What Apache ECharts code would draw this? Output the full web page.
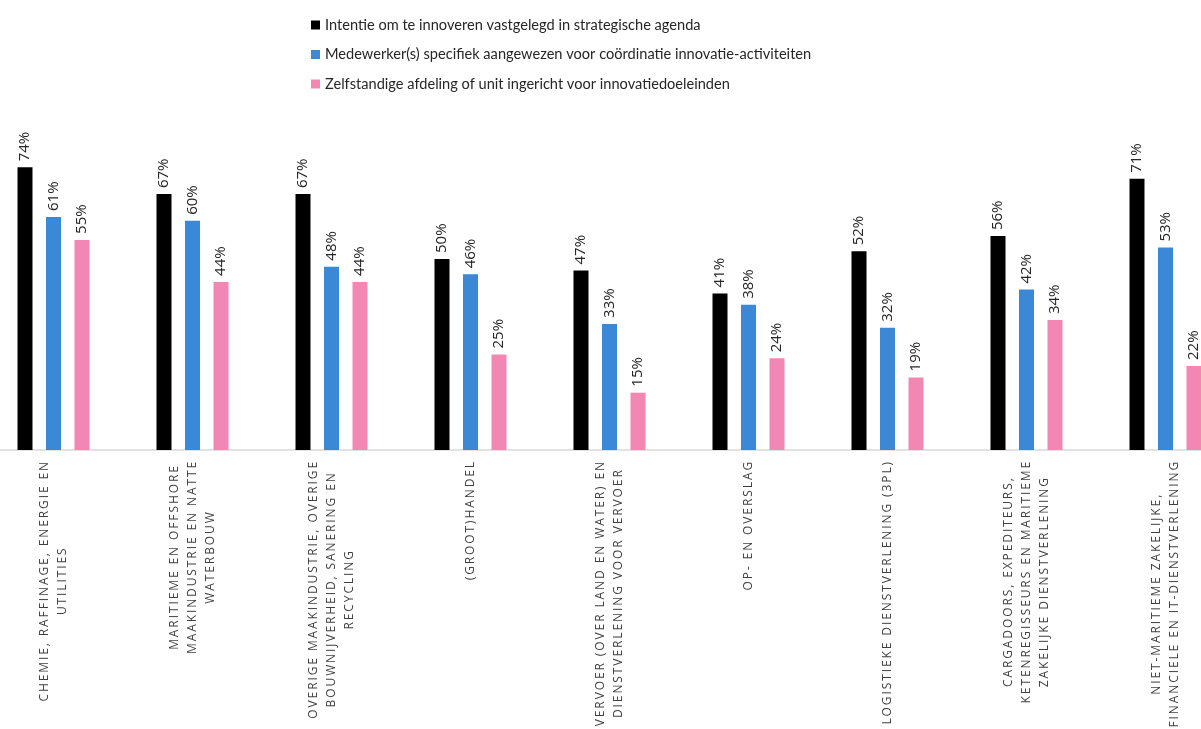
<!DOCTYPE html>
<html>
<head>
<meta charset="utf-8">
<script src="https://cdn.jsdelivr.net/npm/echarts@6/dist/echarts.min.js"></script>
<style>
  html, body { margin: 0; padding: 0; background: #fff; }
  #chart { width: 1201px; height: 729px; }
</style>
</head>
<body>
<div id="chart"></div>
<script>
// sectoren (regels zoals in de figuur afgebroken)
var categories = [
    'CHEMIE, RAFFINAGE, ENERGIE EN\nUTILITIES',
    'MARITIEME EN OFFSHORE\nMAAKINDUSTRIE EN NATTE\nWATERBOUW',
    'OVERIGE MAAKINDUSTRIE, OVERIGE\nBOUWNIJVERHEID, SANERING EN\nRECYCLING',
    '(GROOT)HANDEL',
    'VERVOER (OVER LAND EN WATER) EN\nDIENSTVERLENING VOOR VERVOER',
    'OP- EN OVERSLAG',
    'LOGISTIEKE DIENSTVERLENING (3PL)',
    'CARGADOORS, EXPEDITEURS,\nKETENREGISSEURS EN MARITIEME\nZAKELIJKE DIENSTVERLENING',
    'NIET-MARITIEME ZAKELIJKE,\nFINANCIELE EN IT-DIENSTVERLENING'
];
var seriesNames = [
    'Intentie om te innoveren vastgelegd in strategische agenda',
    'Medewerker(s) specifiek aangewezen voor coördinatie innovatie-activiteiten',
    'Zelfstandige afdeling of unit ingericht voor innovatiedoeleinden'
];
var strategie = [74, 67, 67, 50, 47, 41, 52, 56, 71];
var medewerker = [61, 60, 48, 46, 33, 38, 32, 42, 53];
var afdeling = [55, 44, 44, 25, 15, 24, 19, 34, 22];
var colors = ['#000000', '#3a88d6', '#f387b3'];

// asteksten hebben letterafstand: vlak voor meten/tekenen letterSpacing zetten voor het 12px lettertype
var proto = CanvasRenderingContext2D.prototype;
['fillText', 'strokeText', 'measureText'].forEach(function (fn) {
    var orig = proto[fn];
    proto[fn] = function () {
        if ('letterSpacing' in this) {
            this.letterSpacing = /(^|\s)12px\s/.test(this.font) ? '1.9px' : '0px';
        }
        return orig.apply(this, arguments);
    };
});

var myChart = echarts.init(document.getElementById('chart'));

function maakSerie(i, data) {
    return {
        name: seriesNames[i],
        type: 'bar',
        data: data,
        barWidth: 15,
        barGap: '90%',
        itemStyle: { color: colors[i] },
        label: {
            show: true,
            position: 'top',
            rotate: 90,
            align: 'left',
            verticalAlign: 'middle',
            distance: 6,
            formatter: '{c}%',
            fontFamily: 'Open Sans',
            fontSize: 15,
            color: '#262626'
        }
    };
}

var option = {
    backgroundColor: '#fff',
    animation: false,
    legend: {
        orient: 'vertical',
        left: 306,
        top: 10,
        icon: 'rect',
        itemWidth: 9,
        itemHeight: 9,
        itemGap: 9.5,
        textStyle: {
            fontFamily: 'Lato',
            fontSize: 14.6,
            lineHeight: 20,
            color: '#262626'
        },
        data: seriesNames
    },
    grid: {
        left: -16,
        right: -34,
        top: 68,
        bottom: 279,
        containLabel: false,
        outerBoundsMode: 'none'
    },
    xAxis: {
        type: 'category',
        data: categories,
        axisTick: { show: false },
        axisLine: { lineStyle: { color: '#d9d9d9', width: 1.5 } },
        axisLabel: {
            interval: 0,
            rotate: 90,
            margin: 10,
            formatter: function (value) {
                return value.split('\n').map(function (r) {
                    return '{c|' + r + '}';
                }).join('\n');
            },
            rich: {
                c: {
                    align: 'center',
                    fontFamily: 'Open Sans',
                    fontSize: 12,
                    lineHeight: 18,
                    color: '#404040'
                }
            }
        }
    },
    yAxis: {
        type: 'value',
        min: 0,
        max: 100,
        show: false
    },
    series: [
        maakSerie(0, strategie),
        maakSerie(1, medewerker),
        maakSerie(2, afdeling)
    ]
};
myChart.setOption(option);
window.addEventListener('resize', function () {
    myChart.resize();
});
</script>
</body>
</html>
